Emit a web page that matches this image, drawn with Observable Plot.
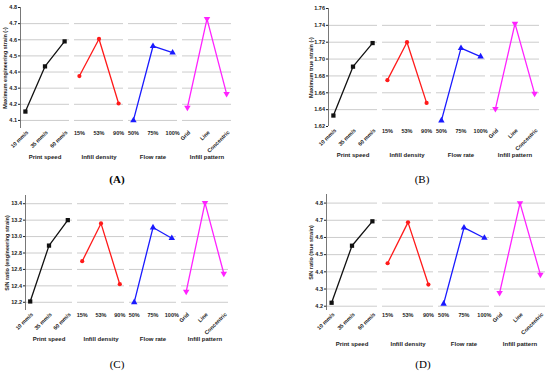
<!DOCTYPE html>
<html>
<head>
<meta charset="utf-8">
<script src="https://cdn.jsdelivr.net/npm/d3@7"></script>
<script src="https://cdn.jsdelivr.net/npm/@observablehq/plot@0.6"></script>
<style>
  html, body { margin: 0; padding: 0; background: #fff; }
  #wrap { position: relative; width: 550px; height: 375px; overflow: hidden; }
  .panel { position: absolute; }
  .tag { position: absolute; font-family: "Liberation Serif", "DejaVu Serif", serif; font-size: 11px; color: #000; transform: translate(-50%, -50%); white-space: nowrap; }
</style>
</head>
<body>
<div id="wrap"></div>
<script>
// ---- data ----
const factors = ["Print speed", "Infill density", "Flow rate", "Infill pattern"];
const speedLevels = ["10 mm/s", "35 mm/s", "60 mm/s"];
const densityLevels = ["15%", "53%", "90%"];
const flowLevels = ["50%", "75%", "100%"];
const patternLevels = ["Grid", "Line", "Concentric"];
const rotatedFactors = ["Print speed", "Infill pattern"];
const factorColors = ["#111111", "#ff1a1a", "#1a1aff", "#ff22ff"];

// values in order: print speed (3), infill density (3), flow rate (3), infill pattern (3)
const engStrain   = [4.155, 4.435, 4.59,  4.375, 4.605, 4.205,  4.10, 4.56, 4.52,  4.18, 4.73, 4.265];
const trueStrain  = [1.633, 1.691, 1.719, 1.675, 1.720, 1.648,  1.627, 1.713, 1.703,  1.641, 1.742, 1.659];
const snEngStrain = [12.21, 12.89, 13.20, 12.70, 13.16, 12.42,  12.20, 13.11, 12.98,  12.33, 13.41, 12.55];
const snTrueStrain= [4.22, 4.552, 4.694,  4.45, 4.688, 4.326,   4.214, 4.657, 4.597,  4.278, 4.80, 4.384];

const yLabelA = "Maximum engineering strain (-)";
const yLabelB = "Maximum true strain (-)";
const yLabelC = "S/N ratio (engineering strain)";
const yLabelD = "S/N ratio (true strain)";

const ticksA = [4.1, 4.2, 4.3, 4.4, 4.5, 4.6, 4.7, 4.8];
const gridA  = [4.1, 4.2, 4.3, 4.4, 4.5, 4.6, 4.7];
const ticksB = [1.62, 1.64, 1.66, 1.68, 1.70, 1.72, 1.74, 1.76];
const gridB  = [1.64, 1.66, 1.68, 1.70, 1.72, 1.74];
const ticksC = [12.2, 12.4, 12.6, 12.8, 13.0, 13.2, 13.4];
const gridC  = [12.2, 12.4, 12.6, 12.8, 13.0, 13.2, 13.4];
const ticksD = [4.2, 4.3, 4.4, 4.5, 4.6, 4.7, 4.8];
const gridD  = [4.2, 4.3, 4.4, 4.5, 4.6, 4.7, 4.8];

const panelTags = ["(A)", "(B)", "(C)", "(D)"];

// ---- helpers ----
const levelSets = [speedLevels, densityLevels, flowLevels, patternLevels];

const triangleDown = {
  draw(context, size) {
    const s3 = Math.sqrt(3);
    const y = -Math.sqrt(size / (s3 * 3));
    context.moveTo(0, -y * 2);
    context.lineTo(-s3 * y, y);
    context.lineTo(s3 * y, y);
    context.closePath();
  }
};
const symbols = ["square", "circle", "triangle", triangleDown];

function buildRows(values) {
  const rows = [];
  factors.forEach((f, fi) => {
    levelSets[fi].forEach((lv, i) => {
      rows.push({factor: f, i, level: lv, value: values[fi * 3 + i], color: factorColors[fi]});
    });
  });
  return rows;
}

function panel(values, yLabel, yDomain, yTicks, grid, fmt, m) {
  const rows = buildRows(values);
  const factorRows = factors.map(f => ({factor: f}));
  const marks = [
    Plot.ruleY(grid, {stroke: "#cccccc", strokeWidth: 1}),
    Plot.ruleX([{factor: factors[0]}], {x: () => -0.25, fx: "factor", stroke: "#555", strokeWidth: 0.8}),
    Plot.lineY(rows, {x: "i", y: "value", fx: "factor", stroke: "color", strokeWidth: 1.3})
  ];
  factors.forEach((f, fi) => {
    marks.push(Plot.dot(rows.filter(d => d.factor === f), {
      x: "i", y: "value", fx: "factor", fill: "color", stroke: "none",
      symbol: symbols[fi], r: fi === 1 ? 2.1 : 2.4
    }));
  });
  marks.push(
    Plot.text(rows.filter(d => !rotatedFactors.includes(d.factor)), {
      x: "i", fx: "factor", text: "level", frameAnchor: "bottom", dy: 5,
      lineAnchor: "middle", textAnchor: "middle"
    }),
    Plot.text(rows.filter(d => rotatedFactors.includes(d.factor)), {
      x: "i", fx: "factor", text: "level", frameAnchor: "bottom", dy: 3, dx: 2,
      lineAnchor: "middle", textAnchor: "end", rotate: -45
    }),
    Plot.text(factorRows, {
      fx: "factor", text: "factor", frameAnchor: "bottom", dy: m.labelDy,
      lineAnchor: "middle", fontSize: 6
    })
  );
  return Plot.plot({
    width: 275, height: 175,
    marginLeft: m.left, marginRight: m.right, marginTop: m.top, marginBottom: m.bottom,
    fx: {domain: factors, padding: 0.09, axis: null},
    x: {domain: [-0.25, 2.25], axis: null},
    y: {domain: yDomain, ticks: yTicks, tickSize: 2, tickPadding: 1.5, tickFormat: fmt,
        label: yLabel, labelAnchor: "center", labelArrow: "none", labelOffset: m.labelOffset},
    color: {type: "identity"},
    style: {fontFamily: "'Liberation Sans', Arial, sans-serif", fontSize: "5.5px", fontWeight: "bold", color: "#222", background: "transparent"},
    marks
  });
}

const wrap = document.getElementById("wrap");
const specs = [
  {vals: engStrain, label: yLabelA, dom: [4.05, 4.8], ticks: ticksA, grid: gridA, fmt: ".1f", pos: [0, 0],
   m: {left: 18, right: 42, top: 7, bottom: 47, labelOffset: 17, labelDy: 29}, tag: [117, 179], bold: true},
  {vals: trueStrain, label: yLabelB, dom: [1.62, 1.76], ticks: ticksB, grid: gridB, fmt: ".2f", pos: [275, 0],
   m: {left: 53, right: 10, top: 8, bottom: 49, labelOffset: 19, labelDy: 29}, tag: [422, 179], bold: false},
  {vals: snEngStrain, label: yLabelC, dom: [12.1, 13.5], ticks: ticksC, grid: gridC, fmt: ".1f", pos: [0, 185],
   m: {left: 23, right: 45, top: 10, bottom: 50, labelOffset: 20, labelDy: 29}, tag: [117, 364], bold: false},
  {vals: snTrueStrain, label: yLabelD, dom: [4.175, 4.85], ticks: ticksD, grid: gridD, fmt: ".1f", pos: [275, 185],
   m: {left: 50, right: 5, top: 9, bottom: 50, labelOffset: 17, labelDy: 34}, tag: [423, 364], bold: false}
];

specs.forEach((s, k) => {
  const svg = panel(s.vals, s.label, s.dom, s.ticks, s.grid, s.fmt, s.m);
  const div = document.createElement("div");
  div.className = "panel";
  div.style.left = s.pos[0] + "px";
  div.style.top = s.pos[1] + "px";
  div.appendChild(svg);
  wrap.appendChild(div);
  const tag = document.createElement("div");
  tag.className = "tag";
  tag.textContent = panelTags[k];
  tag.style.left = s.tag[0] + "px";
  tag.style.top = s.tag[1] + "px";
  tag.style.fontWeight = s.bold ? "bold" : "normal";
  wrap.appendChild(tag);
});
</script>
</body>
</html>
